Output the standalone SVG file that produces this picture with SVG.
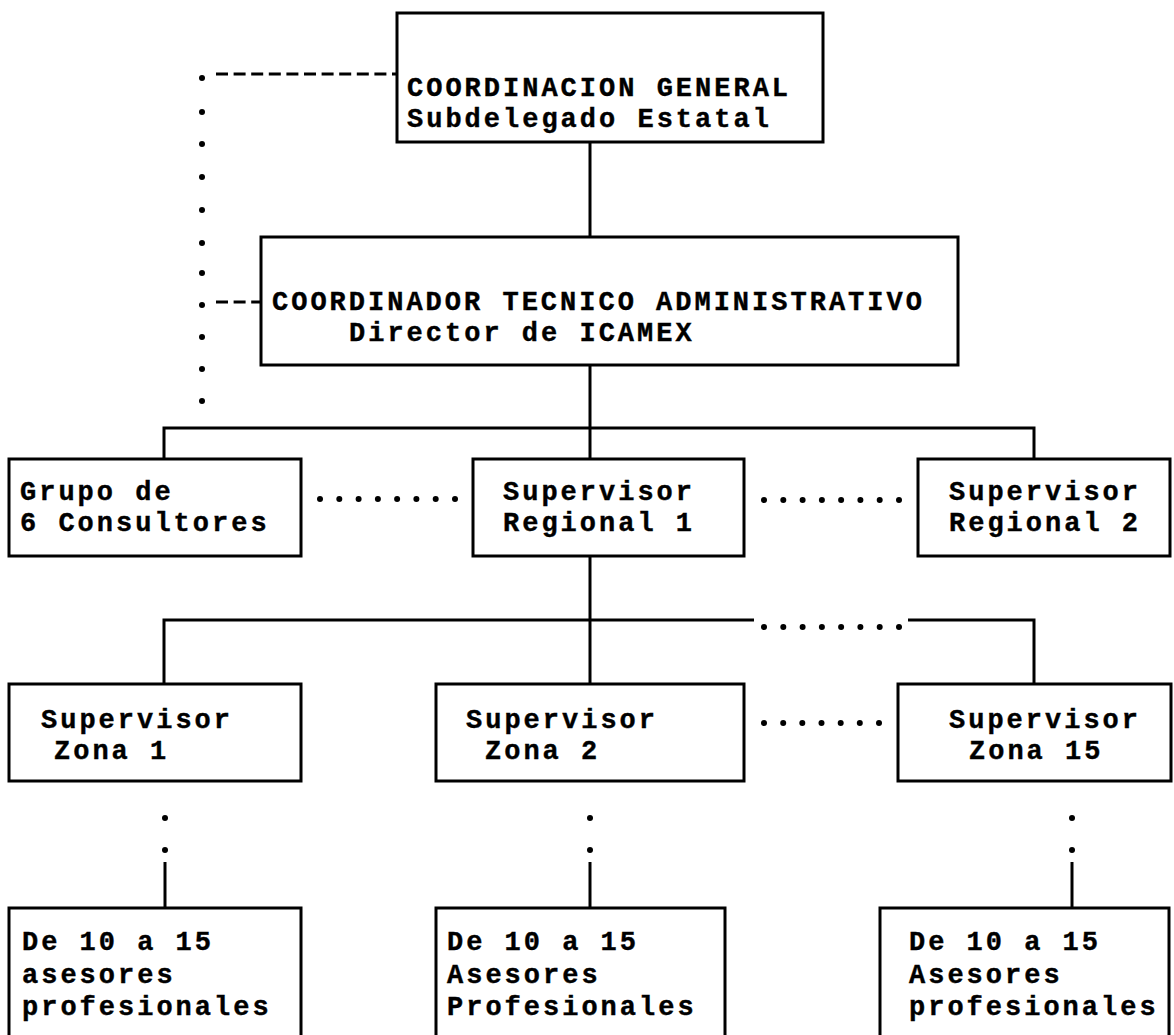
<svg xmlns="http://www.w3.org/2000/svg" width="1174" height="1035" viewBox="0 0 1174 1035">
<style>
  .box { fill: #ffffff; stroke: #000000; stroke-width: 3; }
  .ln { fill: none; stroke: #000000; stroke-width: 3; }
  .dash { fill: none; stroke: #000000; stroke-width: 3; stroke-dasharray: 12 5.6; }
  .dot { fill: #000000; }
  text { font-family: "Liberation Mono", "Courier New", monospace; font-weight: bold; font-size: 27px; letter-spacing: 3px; fill: #000000; stroke: #000000; stroke-width: 0.4; }
</style>
<rect width="1174" height="1035" fill="#ffffff"/>
<g id="connectors">
  <line class="ln" x1="590" y1="142" x2="590" y2="237"/>
  <line class="ln" x1="590" y1="365" x2="590" y2="459"/>
  <polyline class="ln" points="164,459 164,428 1034,428 1034,459"/>
  <line class="ln" x1="590" y1="556" x2="590" y2="684"/>
  <polyline class="ln" points="164,684 164,620 754,620"/>
  <polyline class="ln" points="908,620 1034,620 1034,684"/>
  <line class="ln" x1="165" y1="862" x2="165" y2="908"/>
  <line class="ln" x1="590" y1="862" x2="590" y2="908"/>
  <line class="ln" x1="1072" y1="862" x2="1072" y2="908"/>
  <line class="dash" x1="216" y1="74" x2="397" y2="74"/>
  <line class="dash" x1="216" y1="302" x2="261" y2="302"/>
  <g class="dot">
    <circle cx="202" cy="78" r="3"/><circle cx="202" cy="112" r="3"/><circle cx="202" cy="144" r="3"/>
    <circle cx="202" cy="177" r="3"/><circle cx="202" cy="210" r="3"/><circle cx="202" cy="243" r="3"/>
    <circle cx="202" cy="273" r="3"/><circle cx="202" cy="305" r="3"/><circle cx="202" cy="337" r="3"/>
    <circle cx="202" cy="369" r="3"/><circle cx="202" cy="401" r="3"/>
    <circle cx="320" cy="499" r="3"/><circle cx="339.3" cy="499" r="3"/><circle cx="358.6" cy="499" r="3"/>
    <circle cx="377.9" cy="499" r="3"/><circle cx="397.1" cy="499" r="3"/><circle cx="416.4" cy="499" r="3"/>
    <circle cx="435.7" cy="499" r="3"/><circle cx="455" cy="499" r="3"/>
    <circle cx="764" cy="500" r="3"/><circle cx="783.3" cy="500" r="3"/><circle cx="802.6" cy="500" r="3"/>
    <circle cx="821.9" cy="500" r="3"/><circle cx="841.1" cy="500" r="3"/><circle cx="860.4" cy="500" r="3"/>
    <circle cx="879.7" cy="500" r="3"/><circle cx="899" cy="500" r="3"/>
    <circle cx="764" cy="627" r="3"/><circle cx="783.3" cy="627" r="3"/><circle cx="802.6" cy="627" r="3"/>
    <circle cx="821.9" cy="627" r="3"/><circle cx="841.1" cy="627" r="3"/><circle cx="860.4" cy="627" r="3"/>
    <circle cx="879.7" cy="627" r="3"/><circle cx="899" cy="627" r="3"/>
    <circle cx="764" cy="723" r="3"/><circle cx="783.2" cy="723" r="3"/><circle cx="802.3" cy="723" r="3"/>
    <circle cx="821.5" cy="723" r="3"/><circle cx="840.7" cy="723" r="3"/><circle cx="859.8" cy="723" r="3"/>
    <circle cx="879" cy="723" r="3"/>
    <circle cx="165" cy="818" r="3"/><circle cx="165" cy="850" r="3"/>
    <circle cx="590" cy="818" r="3"/><circle cx="590" cy="850" r="3"/>
    <circle cx="1072" cy="818" r="3"/><circle cx="1072" cy="850" r="3"/>
  </g>
</g>
<g id="coordinacion-general">
  <rect class="box" x="397" y="13" width="426" height="129"/>
  <text x="407" y="96">COORDINACION GENERAL</text>
  <text x="407" y="127">Subdelegado Estatal</text>
</g>
<g id="coordinador-tecnico">
  <rect class="box" x="261" y="237" width="697" height="128"/>
  <text x="272" y="310">COORDINADOR TECNICO ADMINISTRATIVO</text>
  <text x="349" y="341">Director de ICAMEX</text>
</g>
<g id="grupo-consultores">
  <rect class="box" x="9" y="459" width="292" height="97"/>
  <text x="20" y="500">Grupo de</text>
  <text x="20" y="531">6 Consultores</text>
</g>
<g id="supervisor-regional-1">
  <rect class="box" x="473" y="459" width="271" height="97"/>
  <text x="503" y="500">Supervisor</text>
  <text x="503" y="531">Regional 1</text>
</g>
<g id="supervisor-regional-2">
  <rect class="box" x="918" y="459" width="252" height="97"/>
  <text x="949" y="500">Supervisor</text>
  <text x="949" y="531">Regional 2</text>
</g>
<g id="supervisor-zona-1">
  <rect class="box" x="9" y="684" width="292" height="97"/>
  <text x="41" y="728">Supervisor</text>
  <text x="54" y="759">Zona 1</text>
</g>
<g id="supervisor-zona-2">
  <rect class="box" x="436" y="684" width="308" height="97"/>
  <text x="466" y="728">Supervisor</text>
  <text x="485" y="759">Zona 2</text>
</g>
<g id="supervisor-zona-15">
  <rect class="box" x="898" y="684" width="273" height="97"/>
  <text x="949" y="728">Supervisor</text>
  <text x="969" y="759">Zona 15</text>
</g>
<g id="asesores-1">
  <rect class="box" x="9" y="908" width="292" height="140"/>
  <text x="22" y="950">De 10 a 15</text>
  <text x="22" y="983">asesores</text>
  <text x="22" y="1015">profesionales</text>
</g>
<g id="asesores-2">
  <rect class="box" x="436" y="908" width="289" height="140"/>
  <text x="447" y="950">De 10 a 15</text>
  <text x="447" y="983">Asesores</text>
  <text x="447" y="1015">Profesionales</text>
</g>
<g id="asesores-15">
  <rect class="box" x="880" y="908" width="289" height="140"/>
  <text x="909" y="950">De 10 a 15</text>
  <text x="909" y="983">Asesores</text>
  <text x="909" y="1015">profesionales</text>
</g>
</svg>
